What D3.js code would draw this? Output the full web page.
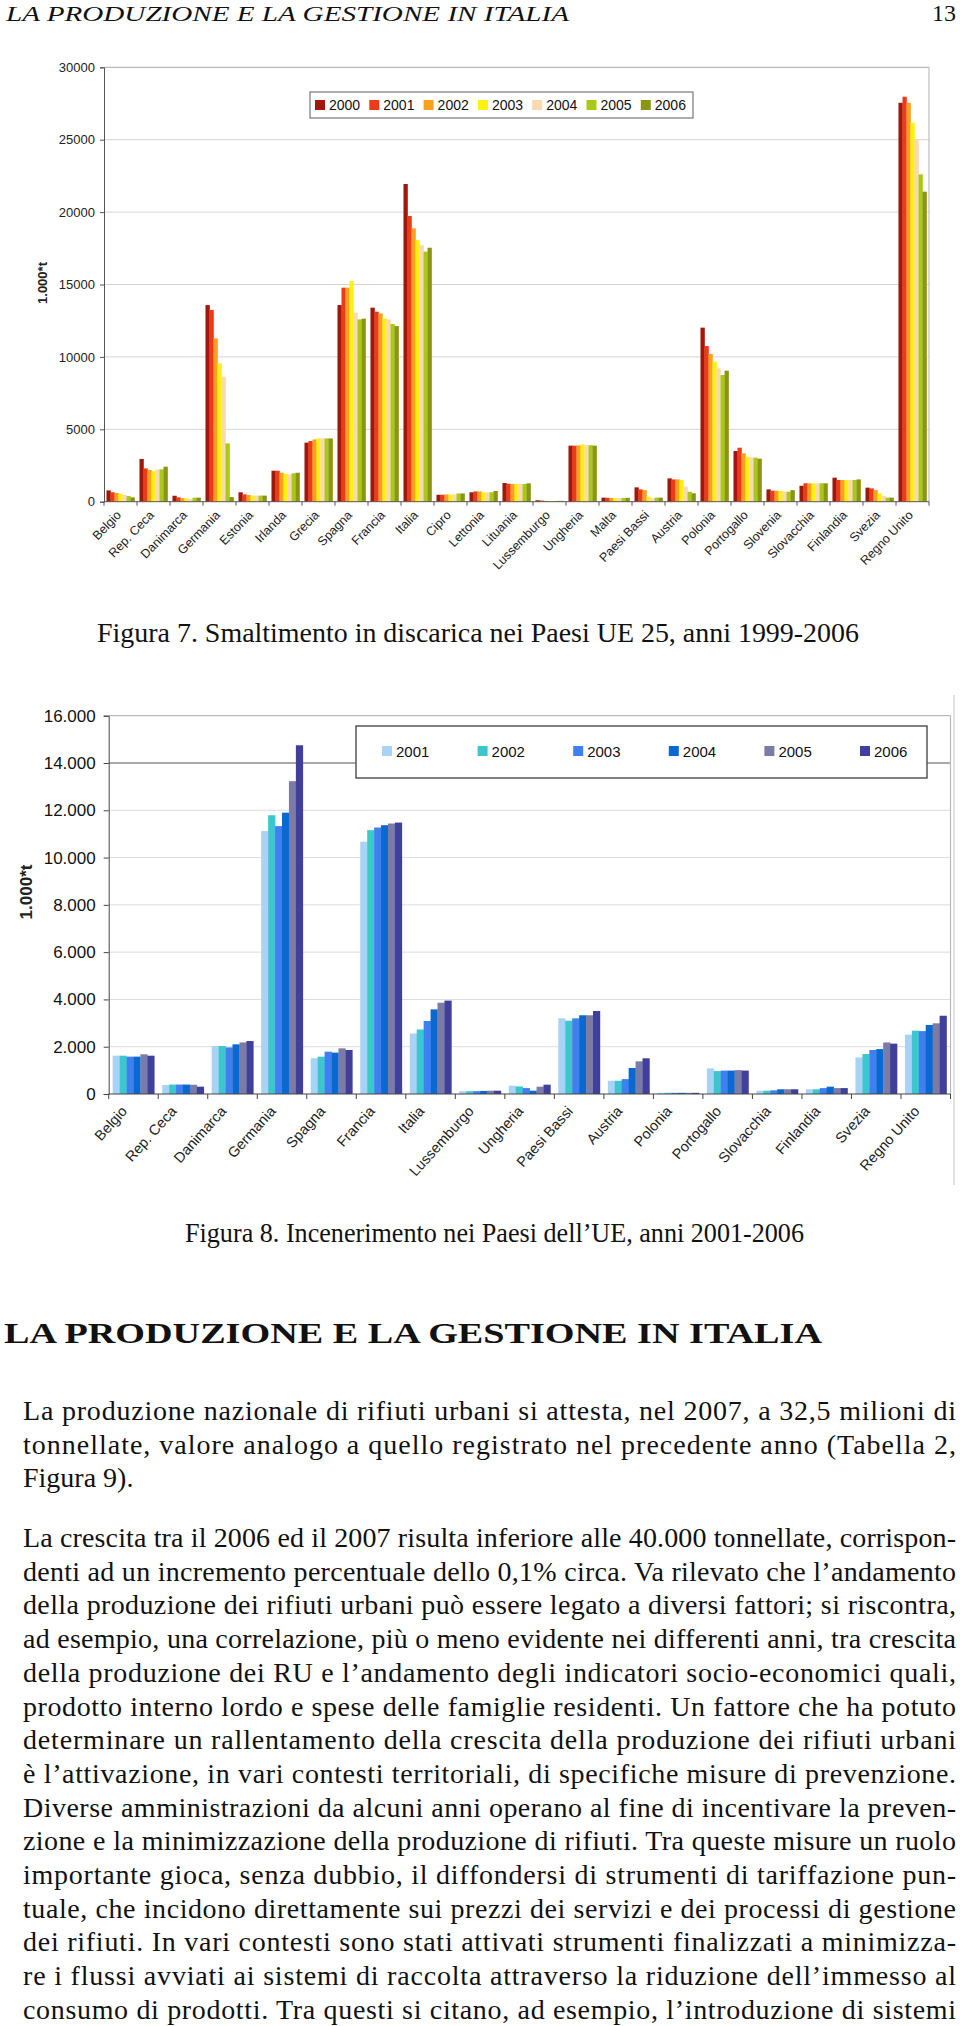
<!DOCTYPE html>
<html><head><meta charset="utf-8">
<script src="https://cdn.jsdelivr.net/npm/d3@7/dist/d3.min.js"></script>
<style>body{margin:0;background:#fff} svg{display:block}</style>
</head><body><svg id="page" width="960" height="2026"></svg>
<script>
// ---------- DATA: Figura 7 (discarica) ----------
const countries1 = ["Belgio","Rep. Ceca","Danimarca","Germania","Estonia","Irlanda","Grecia","Spagna","Francia","Italia","Cipro","Lettonia","Lituania","Lussemburgo","Ungheria","Malta","Paesi Bassi","Austria","Polonia","Portogallo","Slovenia","Slovacchia","Finlandia","Svezia","Regno Unito"];
const years1 = ["2000","2001","2002","2003","2004","2005","2006"];
const l2000 = [780,2950,410,13580,650,2140,4080,13580,13400,21940,480,650,1290,100,3870,280,990,1610,12020,3500,850,1100,1660,970,27550];
const l2001 = [650,2300,300,13240,510,2140,4190,14780,13120,19730,480,710,1240,80,3870,270,850,1540,10750,3730,760,1270,1500,920,27970];
const l2002 = [600,2190,250,11280,460,2000,4300,14780,13000,18880,500,710,1220,60,3890,260,800,1540,10200,3340,760,1270,1500,800,27550];
const l2003 = [550,2120,230,9550,420,1930,4370,15240,12660,18070,500,650,1220,50,3960,250,350,1500,9670,3110,740,1270,1500,580,26170];
const l2004 = [460,2230,180,8630,420,1890,4370,13050,12590,17730,500,650,1220,50,3900,250,230,1040,9210,3060,690,1270,1500,390,25020];
const l2005 = [390,2230,280,4030,420,1960,4370,12590,12270,17270,570,650,1230,60,3900,260,280,690,8750,3040,690,1270,1500,280,22610];
const l2006 = [300,2420,280,320,420,2000,4370,12640,12130,17540,570,740,1270,60,3870,270,280,580,9050,2970,800,1270,1540,280,21410];
const ticks1 = [0,5000,10000,15000,20000,25000,30000];
const tickLabels1 = ["0","5000","10000","15000","20000","25000","30000"];
const colors1 = ["#a0170c","#ee3a16","#f7a21e","#fff012","#f8d9b2","#a9c91a","#8b9512"];

// ---------- DATA: Figura 8 (incenerimento) ----------
const countries2 = ["Belgio","Rep. Ceca","Danimarca","Germania","Spagna","Francia","Italia","Lussemburgo","Ungheria","Paesi Bassi","Austria","Polonia","Portogallo","Slovacchia","Finlandia","Svezia","Regno Unito"];
const years2 = ["2001","2002","2003","2004","2005","2006"];
const i2001 = [1620,380,2030,11120,1510,10670,2560,120,350,3200,560,50,1085,140,200,1550,2510];
const i2002 = [1620,400,2030,11790,1580,11160,2730,120,320,3100,560,50,970,140,200,1690,2680];
const i2003 = [1580,400,1970,11330,1790,11270,3090,120,250,3200,630,50,990,155,250,1860,2660];
const i2004 = [1580,400,2100,11900,1750,11370,3580,130,140,3330,1100,50,990,200,310,1900,2920];
const i2005 = [1680,390,2180,13230,1930,11440,3860,140,310,3330,1380,50,1010,200,250,2180,2990];
const i2006 = [1620,310,2240,14750,1860,11480,3950,140,395,3510,1510,50,990,200,250,2130,3310];
const ticks2 = [0,2000,4000,6000,8000,10000,12000,14000,16000];
const tickLabels2 = ["0","2.000","4.000","6.000","8.000","10.000","12.000","14.000","16.000"];
const colors2 = ["#a8d2f6","#3cc7cf","#3f7ff0","#0a69d0","#7b7ba8","#40409c"];

// ---------- TEXT ----------
const runningHead = "LA PRODUZIONE E LA GESTIONE IN ITALIA";
const pageNumber = "13";
const caption7 = "Figura 7.  Smaltimento in discarica nei Paesi UE 25, anni 1999-2006";
const caption8 = "Figura 8.  Incenerimento nei Paesi dell\u2019UE, anni 2001-2006";
const sectionTitle = "LA PRODUZIONE E LA GESTIONE IN ITALIA";
const para1 = [
 ["La produzione nazionale di rifiuti urbani si attesta, nel 2007, a 32,5 milioni di", true],
 ["tonnellate, valore analogo a quello registrato nel precedente anno (Tabella 2,", true],
 ["Figura 9).", false]
];
const para2 = [
 ["La crescita tra il 2006 ed il 2007 risulta inferiore alle 40.000 tonnellate, corrispon-", true],
 ["denti ad un incremento percentuale dello 0,1% circa. Va rilevato che l\u2019andamento", true],
 ["della produzione dei rifiuti urbani pu\u00f2 essere legato a diversi fattori; si riscontra,", true],
 ["ad esempio, una correlazione, pi\u00f9 o meno evidente nei differenti anni, tra crescita", true],
 ["della produzione dei RU e l\u2019andamento degli indicatori socio-economici quali,", true],
 ["prodotto interno lordo e spese delle famiglie residenti. Un fattore che ha potuto", true],
 ["determinare un rallentamento della crescita della produzione dei rifiuti urbani", true],
 ["\u00e8 l\u2019attivazione, in vari contesti territoriali, di specifiche misure di prevenzione.", true],
 ["Diverse amministrazioni da alcuni anni operano al fine di incentivare la preven-", true],
 ["zione e la minimizzazione della produzione di rifiuti. Tra queste misure un ruolo", true],
 ["importante gioca, senza dubbio, il diffondersi di strumenti di tariffazione pun-", true],
 ["tuale, che incidono direttamente sui prezzi dei servizi e dei processi di gestione", true],
 ["dei rifiuti. In vari contesti sono stati attivati strumenti finalizzati a minimizza-", true],
 ["re i flussi avviati ai sistemi di raccolta attraverso la riduzione dell\u2019immesso al", true],
 ["consumo di prodotti. Tra questi si citano, ad esempio, l\u2019introduzione di sistemi", true]
];

const svg = d3.select("#page");
const SERIF = "'Liberation Serif','DejaVu Serif',serif";
const SANS = "'Liberation Sans',Arial,sans-serif";

// running head
svg.append("text").attr("x",6).attr("y",21).attr("font-family",SERIF).attr("font-style","italic")
  .attr("font-size",22).attr("textLength",563).attr("lengthAdjust","spacingAndGlyphs").attr("fill","#111").text(runningHead);
svg.append("text").attr("x",956).attr("y",21).attr("text-anchor","end").attr("font-family",SERIF)
  .attr("font-size",24).attr("fill","#111").text(pageNumber);

// ---------- CHART 1 ----------
(function(){
  const series = [l2000,l2001,l2002,l2003,l2004,l2005,l2006];
  const L=104, R=929, T=67.3, B=501.7;
  const g = svg.append("g").attr("font-family",SANS);
  const x = d3.scaleBand().domain(countries1).range([L,R]).paddingInner(0.15).paddingOuter(0.075);
  const xs = d3.scaleBand().domain(years1).range([0,x.bandwidth()]);
  const y = d3.scaleLinear().domain([0,30000]).range([B,T]);
  g.append("g").selectAll("line").data(ticks1.slice(1)).join("line")
    .attr("x1",L).attr("x2",R).attr("y1",d=>y(d)).attr("y2",d=>y(d))
    .attr("stroke",d=>d===30000?"#a8a8a8":"#d4d4d4").attr("stroke-width",1);
  g.append("line").attr("x1",R).attr("x2",R).attr("y1",T).attr("y2",B).attr("stroke","#b0b0b0");
  series.forEach((s,si)=>{
    g.append("g").selectAll("rect").data(s).join("rect")
      .attr("x",(d,i)=>x(countries1[i])+xs(years1[si]))
      .attr("width",xs.bandwidth()+0.3)
      .attr("y",d=>y(d)).attr("height",d=>B-y(d)).attr("fill",colors1[si]);
  });
  const ya = d3.axisLeft(y).tickValues(ticks1).tickSize(4).tickFormat((d,i)=>tickLabels1[i]);
  const yg = g.append("g").attr("transform",`translate(${L},0)`).call(ya);
  yg.select(".domain").attr("stroke","#555");
  yg.selectAll(".tick line").attr("stroke","#555");
  yg.selectAll(".tick text").attr("font-size",13).attr("fill","#222").attr("x",-9).attr("font-family",SANS);
  g.append("line").attr("x1",L).attr("x2",R).attr("y1",B).attr("y2",B).attr("stroke","#555");
  g.append("g").selectAll("line").data(d3.range(countries1.length+1)).join("line")
    .attr("x1",i=>L+i*x.step()).attr("x2",i=>L+i*x.step()).attr("y1",B).attr("y2",B+4).attr("stroke","#555");
  g.append("g").selectAll("text").data(countries1).join("text")
    .attr("transform",d=>`translate(${x(d)+x.bandwidth()/2-5},${B+8}) rotate(-46)`)
    .attr("text-anchor","end").attr("dy","0.7em").attr("font-size",12.5).attr("fill","#222").text(d=>d);
  g.append("text").attr("transform","translate(47,283) rotate(-90)").attr("text-anchor","middle")
    .attr("font-size",13).attr("font-weight","bold").attr("fill","#222").text("1.000*t");
  const lg = g.append("g");
  lg.append("rect").attr("x",310).attr("y",92).attr("width",383).attr("height",26).attr("fill","#fff").attr("stroke","#777").attr("stroke-width",1.2);
  years1.forEach((yr,i)=>{
    const lx = 315 + i*54.3;
    lg.append("rect").attr("x",lx).attr("y",100).attr("width",10).attr("height",10).attr("fill",colors1[i]);
    lg.append("text").attr("x",lx+14).attr("y",110).attr("font-size",14).attr("fill","#111").text(yr);
  });
  svg.append("text").attr("x",478).attr("y",642).attr("text-anchor","middle").attr("font-family",SERIF)
    .attr("font-size",28).attr("textLength",762).attr("lengthAdjust","spacingAndGlyphs").attr("fill","#111").text(caption7);
})();

// ---------- CHART 2 ----------
(function(){
  const series = [i2001,i2002,i2003,i2004,i2005,i2006];
  const L=108.7, R=950.5, T=715.7, B=1094;
  const g = svg.append("g").attr("font-family",SANS);
  const x = d3.scaleBand().domain(countries2).range([L,R]).paddingInner(0.16).paddingOuter(0.08);
  const xs = d3.scaleBand().domain(years2).range([0,x.bandwidth()]);
  const y = d3.scaleLinear().domain([0,16000]).range([B,T]);
  g.append("line").attr("x1",954).attr("x2",954).attr("y1",695).attr("y2",1185).attr("stroke","#dadada").attr("stroke-width",1.5);
  g.append("g").selectAll("line").data(ticks2.slice(1)).join("line")
    .attr("x1",L).attr("x2",R).attr("y1",d=>y(d)).attr("y2",d=>y(d))
    .attr("stroke",d=>d===14000?"#555":(d===16000?"#aaa":"#dcdcdc")).attr("stroke-width",d=>d===14000?1.2:1);
  g.append("line").attr("x1",R).attr("x2",R).attr("y1",T).attr("y2",B).attr("stroke","#b8b8b8").attr("stroke-width",1.2);
  series.forEach((s,si)=>{
    g.append("g").selectAll("rect").data(s).join("rect")
      .attr("x",(d,i)=>x(countries2[i])+xs(years2[si]))
      .attr("width",xs.bandwidth()+0.3)
      .attr("y",d=>y(d)).attr("height",d=>B-y(d)).attr("fill",colors2[si]);
  });
  const ya = d3.axisLeft(y).tickValues(ticks2).tickSize(5).tickFormat((d,i)=>tickLabels2[i]);
  const yg = g.append("g").attr("transform",`translate(${L},0)`).call(ya);
  yg.select(".domain").attr("stroke","#444");
  yg.selectAll(".tick line").attr("stroke","#444");
  yg.selectAll(".tick text").attr("font-size",17).attr("fill","#111").attr("x",-13).attr("font-family",SANS);
  g.append("line").attr("x1",L).attr("x2",R).attr("y1",B).attr("y2",B).attr("stroke","#444");
  g.append("g").selectAll("line").data(d3.range(countries2.length+1)).join("line")
    .attr("x1",i=>L+i*x.step()).attr("x2",i=>L+i*x.step()).attr("y1",B).attr("y2",B+5).attr("stroke","#444");
  g.append("g").selectAll("text").data(countries2).join("text")
    .attr("transform",d=>`translate(${x(d)+x.bandwidth()/2-13},${B+11}) rotate(-48)`)
    .attr("text-anchor","end").attr("dy","0.7em").attr("font-size",14.5).attr("fill","#222").text(d=>d);
  g.append("text").attr("transform","translate(32,892) rotate(-90)").attr("text-anchor","middle")
    .attr("font-size",17).attr("font-weight","bold").attr("fill","#222").text("1.000*t");
  const lg = g.append("g");
  lg.append("rect").attr("x",356).attr("y",726).attr("width",571).attr("height",52).attr("fill","#fff").attr("stroke","#555").attr("stroke-width",1.5);
  years2.forEach((yr,i)=>{
    const lx = 382 + i*95.6;
    lg.append("rect").attr("x",lx).attr("y",746).attr("width",10).attr("height",10).attr("fill",colors2[i]);
    lg.append("text").attr("x",lx+14).attr("y",757).attr("font-size",15).attr("fill","#111").text(yr);
  });
  svg.append("text").attr("x",494.5).attr("y",1242).attr("text-anchor","middle").attr("font-family",SERIF)
    .attr("font-size",28).attr("textLength",619).attr("lengthAdjust","spacingAndGlyphs").attr("fill","#111").text(caption8);
})();

// ---------- BODY TEXT ----------
svg.append("text").attr("x",4).attr("y",1343).attr("font-family",SERIF).attr("font-weight","bold")
  .attr("font-size",30).attr("textLength",818).attr("lengthAdjust","spacingAndGlyphs").attr("fill","#111").text(sectionTitle);

function drawPara(lines, y0, lh){
  lines.forEach(([t,just],i)=>{
    const el = svg.append("text").attr("x",23).attr("y",y0+i*lh).attr("font-family",SERIF)
      .attr("font-size",28).attr("fill","#111").text(t);
    if(just) el.attr("textLength",933).attr("lengthAdjust","spacing");
  });
}
drawPara(para1, 1420, 33.7);
drawPara(para2, 1547, 33.7);
</script></body></html>
